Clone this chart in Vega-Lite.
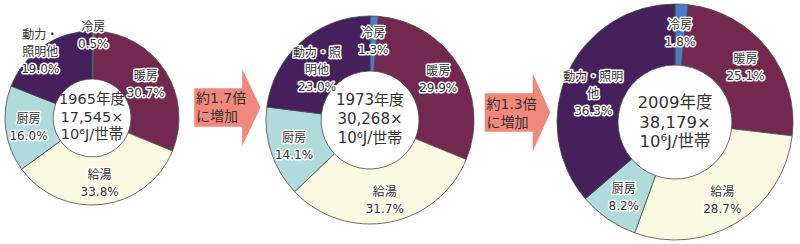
{
  "$schema": "https://vega.github.io/schema/vega-lite/v6.json",
  "padding": 0,
  "spacing": 0,
  "bounds": "flush",
  "config": {"view": {"stroke": null}, "font": "DejaVu Sans, Noto Sans CJK JP, sans-serif", "text": {"font": "DejaVu Sans, Noto Sans CJK JP, sans-serif"}},
  "resolve": {"scale": {"theta": "independent"}},
  "datasets": {
    "d": [
      {"year": 1965, "cat": "冷房", "ord": 1, "value": 0.5, "label": "冷房\n0.5%"},
      {"year": 1965, "cat": "暖房", "ord": 2, "value": 30.7, "label": "暖房\n30.7%"},
      {"year": 1965, "cat": "給湯", "ord": 3, "value": 33.8, "label": "給湯\n33.8%"},
      {"year": 1965, "cat": "厨房", "ord": 4, "value": 16.0, "label": "厨房\n16.0%"},
      {"year": 1965, "cat": "動力・照明他", "ord": 5, "value": 19.0, "label": "動力・\n照明他\n19.0%"},
      {"year": 1973, "cat": "冷房", "ord": 1, "value": 1.3, "label": "冷房\n1.3%"},
      {"year": 1973, "cat": "暖房", "ord": 2, "value": 29.9, "label": "暖房\n29.9%"},
      {"year": 1973, "cat": "給湯", "ord": 3, "value": 31.7, "label": "給湯\n31.7%"},
      {"year": 1973, "cat": "厨房", "ord": 4, "value": 14.1, "label": "厨房\n14.1%"},
      {"year": 1973, "cat": "動力・照明他", "ord": 5, "value": 23.0, "label": "動力・照\n明他\n23.0%"},
      {"year": 2009, "cat": "冷房", "ord": 1, "value": 1.8, "label": "冷房\n1.8%"},
      {"year": 2009, "cat": "暖房", "ord": 2, "value": 25.1, "label": "暖房\n25.1%"},
      {"year": 2009, "cat": "給湯", "ord": 3, "value": 28.7, "label": "給湯\n28.7%"},
      {"year": 2009, "cat": "厨房", "ord": 4, "value": 8.2, "label": "厨房\n8.2%"},
      {"year": 2009, "cat": "動力・照明他", "ord": 5, "value": 36.3, "label": "動力・照明\n他\n36.3%"}
    ],
    "centers": [
      {"year": 1965, "t": "1965年度\n17,545×\n10⁶J/世帯"},
      {"year": 1973, "t": "1973年度\n30,268×\n10⁶J/世帯"},
      {"year": 2009, "t": "2009年度\n38,179×\n10⁶J/世帯"}
    ],
    "arrows": [
      {"id": 1, "t": "約1.7倍\nに増加"},
      {"id": 2, "t": "約1.3倍\nに増加"}
    ]
  },
  "hconcat": [
    {
      "width": 180, "height": 236,
      "encoding": {
        "theta": {"field": "value", "type": "quantitative", "stack": true},
        "order": {"field": "ord", "type": "quantitative"}
      },
      "layer": [
        {"data": {"name": "d"}, "transform": [{"filter": "datum.year == 1965"}],
         "mark": {"type": "arc", "outerRadius": 87, "innerRadius": 39, "stroke": "#4a4a4a", "strokeWidth": 0.8},
         "encoding": {"color": {"field": "cat", "type": "nominal", "legend": null,
           "scale": {"domain": ["冷房", "暖房", "給湯", "厨房", "動力・照明他"], "range": ["#4a7cc4", "#72284f", "#fcf9e3", "#afdcdb", "#45205c"]}}}},
        {"data": {"name": "d"}, "transform": [{"filter": "datum.year == 1965"}],
         "mark": {"type": "text", "radius": 64, "dy": -7, "fontSize": 12, "lineHeight": 17, "lineBreak": "\n", "fill": "white", "stroke": "white", "strokeWidth": 3, "strokeJoin": "round"},
         "encoding": {"detail": {"field": "cat"}, "text": {"condition": {"test": "datum.cat == '暖房' || datum.cat == '給湯' || datum.cat == '厨房'", "field": "label"}, "value": ""}}},
        {"data": {"name": "d"}, "transform": [{"filter": "datum.year == 1965"}],
         "mark": {"type": "text", "radius": 64, "dy": -7, "fontSize": 12, "lineHeight": 17, "lineBreak": "\n", "fill": "#333333"},
         "encoding": {"detail": {"field": "cat"}, "text": {"condition": {"test": "datum.cat == '暖房' || datum.cat == '給湯' || datum.cat == '厨房'", "field": "label"}, "value": ""}}},
        {"data": {"name": "d"}, "transform": [{"filter": "datum.year == 1965"}],
         "mark": {"type": "text", "radius": 84, "dy": -7, "fontSize": 12, "lineHeight": 17, "lineBreak": "\n", "fill": "white", "stroke": "white", "strokeWidth": 3, "strokeJoin": "round"},
         "encoding": {"detail": {"field": "cat"}, "text": {"condition": {"test": "datum.cat == '冷房'", "field": "label"}, "value": ""}}},
        {"data": {"name": "d"}, "transform": [{"filter": "datum.year == 1965"}],
         "mark": {"type": "text", "radius": 84, "dy": -7, "fontSize": 12, "lineHeight": 17, "lineBreak": "\n", "fill": "#333333"},
         "encoding": {"detail": {"field": "cat"}, "text": {"condition": {"test": "datum.cat == '冷房'", "field": "label"}, "value": ""}}},
        {"data": {"name": "d"}, "transform": [{"filter": "datum.year == 1965"}],
         "mark": {"type": "text", "radius": 92, "dy": -7, "fontSize": 12, "lineHeight": 17, "lineBreak": "\n", "fill": "white", "stroke": "white", "strokeWidth": 3, "strokeJoin": "round"},
         "encoding": {"detail": {"field": "cat"}, "text": {"condition": {"test": "datum.cat == '動力・照明他'", "field": "label"}, "value": ""}}},
        {"data": {"name": "d"}, "transform": [{"filter": "datum.year == 1965"}],
         "mark": {"type": "text", "radius": 92, "dy": -7, "fontSize": 12, "lineHeight": 17, "lineBreak": "\n", "fill": "#333333"},
         "encoding": {"detail": {"field": "cat"}, "text": {"condition": {"test": "datum.cat == '動力・照明他'", "field": "label"}, "value": ""}}},
        {"data": {"name": "centers"}, "transform": [{"filter": "datum.year == 1965"}],
         "mark": {"type": "text", "fontSize": 14.5, "lineHeight": 17.5, "dy": -18, "lineBreak": "\n", "fill": "#333333", "baseline": "middle"},
         "encoding": {"theta": null, "order": null, "text": {"field": "t"}}}
      ]
    },
    {
      "width": 90, "height": 215,
      "data": {"name": "arrows"},
      "transform": [{"filter": "datum.id == 1"}],
      "layer": [
        {"mark": {"type": "point", "shape": "M-0.82,-0.48 L0.38,-0.48 L0.38,-0.96 L0.84,0 L0.38,0.96 L0.38,0.48 L-0.82,0.48 Z", "size": 6400, "filled": true, "fill": "#f2877b", "opacity": 1, "strokeWidth": 0}, "encoding": {}},
        {"mark": {"type": "text", "fontSize": 14, "lineHeight": 18, "lineBreak": "\n", "align": "left", "dx": -31, "dy": -9, "fill": "#333333", "baseline": "middle"},
         "encoding": {"text": {"field": "t"}}}
      ]
    },
    {
      "width": 196, "height": 240,
      "encoding": {
        "theta": {"field": "value", "type": "quantitative", "stack": true},
        "order": {"field": "ord", "type": "quantitative"}
      },
      "layer": [
        {"data": {"name": "d"}, "transform": [{"filter": "datum.year == 1973"}],
         "mark": {"type": "arc", "outerRadius": 104, "innerRadius": 49, "stroke": "#4a4a4a", "strokeWidth": 0.8},
         "encoding": {"color": {"field": "cat", "type": "nominal", "legend": null,
           "scale": {"domain": ["冷房", "暖房", "給湯", "厨房", "動力・照明他"], "range": ["#4a7cc4", "#72284f", "#fcf9e3", "#afdcdb", "#45205c"]}}}},
        {"data": {"name": "d"}, "transform": [{"filter": "datum.year == 1973"}],
         "mark": {"type": "text", "radius": 80, "dy": -7, "fontSize": 12, "lineHeight": 17, "lineBreak": "\n", "fill": "white", "stroke": "white", "strokeWidth": 3, "strokeJoin": "round"},
         "encoding": {"detail": {"field": "cat"}, "text": {"field": "label"}}},
        {"data": {"name": "d"}, "transform": [{"filter": "datum.year == 1973"}],
         "mark": {"type": "text", "radius": 80, "dy": -7, "fontSize": 12, "lineHeight": 17, "lineBreak": "\n", "fill": "#333333"},
         "encoding": {"detail": {"field": "cat"}, "text": {"field": "label"}}},
        {"data": {"name": "centers"}, "transform": [{"filter": "datum.year == 1973"}],
         "mark": {"type": "text", "fontSize": 15, "lineHeight": 19, "dy": -20, "lineBreak": "\n", "fill": "#333333", "baseline": "middle"},
         "encoding": {"theta": null, "order": null, "text": {"field": "t"}}}
      ]
    },
    {
      "width": 99, "height": 225,
      "data": {"name": "arrows"},
      "transform": [{"filter": "datum.id == 2"}],
      "layer": [
        {"mark": {"type": "point", "shape": "M-0.82,-0.48 L0.38,-0.48 L0.38,-0.98 L0.82,0 L0.38,0.98 L0.38,0.48 L-0.82,0.48 Z", "size": 6400, "filled": true, "fill": "#f2877b", "opacity": 1, "strokeWidth": 0}, "encoding": {}},
        {"mark": {"type": "text", "fontSize": 14, "lineHeight": 18, "lineBreak": "\n", "align": "left", "dx": -31, "dy": -8, "fill": "#333333", "baseline": "middle"},
         "encoding": {"text": {"field": "t"}}}
      ]
    },
    {
      "width": 216, "height": 244,
      "encoding": {
        "theta": {"field": "value", "type": "quantitative", "stack": true},
        "order": {"field": "ord", "type": "quantitative"}
      },
      "layer": [
        {"data": {"name": "d"}, "transform": [{"filter": "datum.year == 2009"}],
         "mark": {"type": "arc", "outerRadius": 118, "innerRadius": 57, "stroke": "#4a4a4a", "strokeWidth": 0.8},
         "encoding": {"color": {"field": "cat", "type": "nominal", "legend": null,
           "scale": {"domain": ["冷房", "暖房", "給湯", "厨房", "動力・照明他"], "range": ["#4a7cc4", "#72284f", "#fcf9e3", "#afdcdb", "#45205c"]}}}},
        {"data": {"name": "d"}, "transform": [{"filter": "datum.year == 2009"}],
         "mark": {"type": "text", "radius": 90, "dy": -7, "fontSize": 12, "lineHeight": 17, "lineBreak": "\n", "fill": "white", "stroke": "white", "strokeWidth": 3, "strokeJoin": "round"},
         "encoding": {"detail": {"field": "cat"}, "text": {"field": "label"}}},
        {"data": {"name": "d"}, "transform": [{"filter": "datum.year == 2009"}],
         "mark": {"type": "text", "radius": 90, "dy": -7, "fontSize": 12, "lineHeight": 17, "lineBreak": "\n", "fill": "#333333"},
         "encoding": {"detail": {"field": "cat"}, "text": {"field": "label"}}},
        {"data": {"name": "centers"}, "transform": [{"filter": "datum.year == 2009"}],
         "mark": {"type": "text", "fontSize": 16.5, "lineHeight": 19.5, "dy": -19, "lineBreak": "\n", "fill": "#333333", "baseline": "middle"},
         "encoding": {"theta": null, "order": null, "text": {"field": "t"}}}
      ]
    }
  ]
}
